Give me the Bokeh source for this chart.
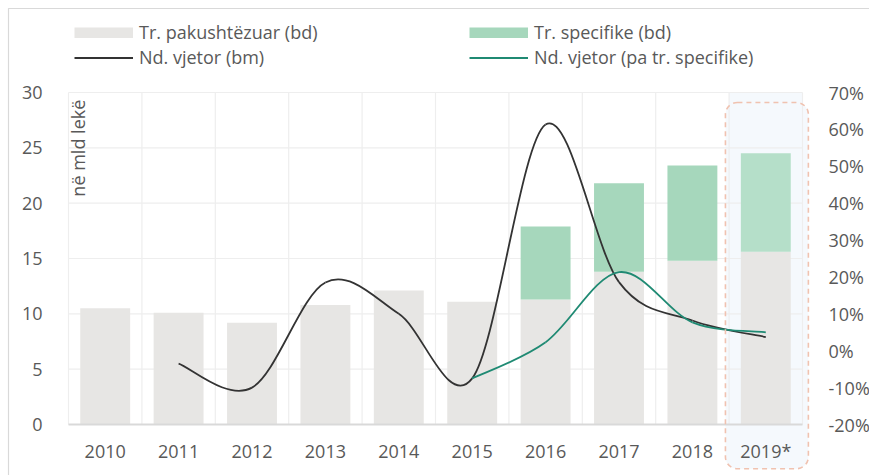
import math
from bokeh.plotting import figure
from bokeh.models import (Range1d, LinearAxis, FixedTicker, BoxAnnotation, Label,
                          Legend, LegendItem, PrintfTickFormatter)
from bokeh.embed import file_html
from bokeh.resources import INLINE

# ---------------- data ----------------
years = ["2010", "2011", "2012", "2013", "2014", "2015", "2016", "2017", "2018", "2019*"]
unconditional = [10.5, 10.1, 9.2, 10.8, 12.1, 11.1, 11.3, 13.8, 14.8, 15.6]   # bd, mld lekë
specific_years = ["2016", "2017", "2018", "2019*"]
specific = [6.6, 8.0, 8.6, 8.9]                                                # bd, mld lekë
growth_years = ["2011", "2012", "2013", "2014", "2015", "2016", "2017", "2018", "2019*"]
growth_total = [-3.5, -10.0, 18.5, 10.0, -7.5, 61.3, 18.6, 8.2, 3.7]          # %, bm
growth_excl_years = ["2015", "2016", "2017", "2018", "2019*"]
growth_excl = [-7.5, 2.3, 21.3, 7.7, 5.0]                                       # %, pa tr. specifike
left_ticks = [0, 5, 10, 15, 20, 25, 30]
right_ticks = [-20, -10, 0, 10, 20, 30, 40, 50, 60, 70]
highlight_year = "2019*"

labels = {
    "unc": "Tr. pakushtëzuar (bd)",
    "spec": "Tr. specifike (bd)",
    "tot": "Nd. vjetor (bm)",
    "excl": "Nd. vjetor (pa tr. specifike)",
    "unit": "në mld lekë",
}

# ---------------- style / layout ----------------
FONT = "Open Sans"
TXT = "#595959"
GRAY = "#e7e6e4"
GREEN = "#a6d7bc"
GREEN_HL = "#b5dfc9"
BLACK = "#333333"
TEAL = "#1f8a73"
GRID = "#eeeeee"
HL_FILL = "#f5f9fd"
HL_LINE = "#f0c2b0"

W, H = 869, 475
LEFT, RIGHT, BOTTOM, TOP = 68, 67, 51, 92   # value area inside the canvas
area_h = H - BOTTOM - TOP
ppu_l = area_h / (left_ticks[-1] - left_ticks[0])
ppu_r = area_h / (right_ticks[-1] - right_ticks[0])
cat_px = (W - LEFT - RIGHT) / len(years)
n = len(years)

def xc(y):
    return years.index(y) + 0.5

# the frame covers the whole canvas; axes sit at fixed positions inside it
p = figure(width=W, height=H,
           x_range=Range1d(-LEFT / cat_px, n + RIGHT / cat_px),
           y_range=Range1d(left_ticks[0] - BOTTOM / ppu_l, left_ticks[-1] + TOP / ppu_l),
           output_backend="svg", toolbar_location=None,
           min_border_left=0, min_border_right=0, min_border_top=0, min_border_bottom=0)
p.extra_y_ranges = {"pct": Range1d(right_ticks[0] - BOTTOM / ppu_r, right_ticks[-1] + TOP / ppu_r)}
p.outline_line_color = None
p.background_fill_color = "white"
p.border_fill_color = "white"
p.grid.grid_line_color = None

# highlight area for the last year (behind everything)
hi = years.index(highlight_year)
p.add_layout(BoxAnnotation(left=hi, right=hi + 1, top=left_ticks[-1], bottom=0,
                           fill_color=HL_FILL, fill_alpha=1, line_color=None, level="image"))
p.add_layout(BoxAnnotation(left=hi - 0.05, right=hi + 1.08, top=29.1, bottom=-4.0,
                           fill_color=HL_FILL, fill_alpha=1, line_color=None,
                           border_radius=12, level="image"))

# grid lines limited to the value area
vs = list(range(n + 1))
p.segment(x0=vs, y0=[left_ticks[0]] * len(vs), x1=vs, y1=[left_ticks[-1]] * len(vs),
          line_color=GRID, line_width=1.2)
p.segment(x0=[0] * len(left_ticks), y0=left_ticks, x1=[n] * len(left_ticks), y1=left_ticks,
          line_color=GRID, line_width=1.2)

# bars
xs = [xc(y) for y in years]
p.vbar(x=xs, top=unconditional, width=0.68, fill_color=GRAY, line_color=None)
sx = [xc(y) for y in specific_years]
sb = [unconditional[years.index(y)] for y in specific_years]
stop = [b + v for b, v in zip(sb, specific)]
scol = [GREEN_HL if y == highlight_year else GREEN for y in specific_years]
p.vbar(x=sx, bottom=sb, top=stop, width=0.68, fill_color=scol, line_color=None)

# smoothed lines (Bezier segments through the data points)
def smooth(xv, yv):
    m = len(xv)
    d = dict(x0=[], y0=[], x1=[], y1=[], cx0=[], cy0=[], cx1=[], cy1=[])
    for i in range(m - 1):
        a = i - 1 if i > 0 else i
        b = i + 2 if i + 2 < m else i + 1
        d["x0"].append(xv[i]); d["y0"].append(yv[i])
        d["x1"].append(xv[i + 1]); d["y1"].append(yv[i + 1])
        d["cx0"].append(xv[i] + (xv[i + 1] - xv[a]) / 6)
        d["cy0"].append(yv[i] + (yv[i + 1] - yv[a]) / 6)
        d["cx1"].append(xv[i + 1] - (xv[b] - xv[i]) / 6)
        d["cy1"].append(yv[i + 1] - (yv[b] - yv[i]) / 6)
    return d

p.bezier(**smooth([xc(y) for y in growth_years], growth_total),
         line_color=BLACK, line_width=1.8, y_range_name="pct")
p.bezier(**smooth([xc(y) for y in growth_excl_years], growth_excl),
         line_color=TEAL, line_width=1.8, y_range_name="pct")

# dashed rounded frame around the highlighted year
p.add_layout(BoxAnnotation(left=hi - 0.05, right=hi + 1.08, top=29.1, bottom=-4.0,
                           fill_color=None, line_color=HL_LINE, line_alpha=1,
                           line_width=1.6, line_dash="5 4", border_radius=12,
                           level="annotation"))

# axes (fixed inside the canvas-wide frame)
p.xaxis.fixed_location = 0
p.xaxis.bounds = (0, n)
p.xaxis.ticker = FixedTicker(ticks=xs)
p.xaxis.major_label_overrides = {x: y for x, y in zip(xs, years)}
p.xaxis.axis_line_color = "#d9d9d9"
p.xaxis.axis_line_width = 2
p.xaxis.major_tick_line_color = None
p.xaxis.minor_tick_line_color = None
p.xaxis.major_label_standoff = 8

p.yaxis.fixed_location = 0
p.yaxis.ticker = FixedTicker(ticks=left_ticks)
p.yaxis.axis_line_color = None
p.yaxis.major_tick_line_color = None
p.yaxis.minor_tick_line_color = None
p.yaxis.major_label_standoff = 20

ra = LinearAxis(y_range_name="pct", ticker=FixedTicker(ticks=right_ticks),
                formatter=PrintfTickFormatter(format="%d%%"), fixed_location=n)
ra.axis_line_color = None
ra.major_tick_line_color = None
ra.minor_tick_line_color = None
ra.major_label_standoff = 20
p.add_layout(ra, "right")

for ax in [p.xaxis[0], p.yaxis[0], ra]:
    ax.major_label_text_font = FONT
    ax.major_label_text_font_size = "18px"
    ax.major_label_text_color = TXT

# unit label
p.add_layout(Label(x=0.123, y=29.35, text=labels["unit"], angle=math.pi / 2,
                   text_align="right", text_baseline="middle",
                   text_font=FONT, text_font_size="18px", text_color=TXT))

# outer chart border (only its top / left edges fall inside the picture)
p.add_layout(BoxAnnotation(left=-(LEFT - 8) / cat_px, top=left_ticks[-1] + (TOP - 8) / ppu_l,
                           right=n + 50, bottom=-50,
                           fill_color=None, line_color="#d9d9d9", line_alpha=1,
                           line_width=1.2, level="overlay"))

# legend (swatch-only renderers that draw nothing)
nan = float("nan")
r_unc = p.line([nan], [nan], line_color=GRAY, line_width=11)
r_spec = p.line([nan], [nan], line_color=GREEN, line_width=11)
r_tot = p.line([nan], [nan], line_color=BLACK, line_width=1.8)
r_excl = p.line([nan], [nan], line_color=TEAL, line_width=1.8)
legend = Legend(items=[
    LegendItem(label=labels["unc"], renderers=[r_unc]),
    LegendItem(label=labels["tot"], renderers=[r_tot]),
    LegendItem(label=labels["spec"], renderers=[r_spec]),
    LegendItem(label=labels["excl"], renderers=[r_excl]),
], ncols=2, location=(74, H - 69))
legend.border_line_color = None
legend.background_fill_alpha = 0
legend.padding = 0
legend.margin = 0
legend.spacing = 1
legend.glyph_width = 59
legend.glyph_height = 11
legend.label_standoff = 6
legend.label_height = 20
legend.label_width = 329
legend.label_text_font = FONT
legend.label_text_font_size = "18px"
legend.label_text_color = TXT
p.add_layout(legend)

open("out.html", "w").write(file_html(p, INLINE))
